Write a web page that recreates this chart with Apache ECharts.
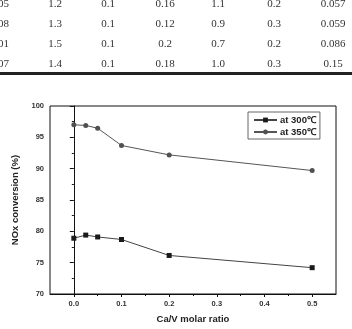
<!DOCTYPE html>
<html><head><meta charset="utf-8">
<script src="https://cdn.jsdelivr.net/npm/echarts@6/dist/echarts.min.js"></script>
<style>html,body{margin:0;padding:0;background:#fff}#c{width:352px;height:329px}</style>
</head><body><div id="c"></div>
<script>
// Table fragment (top of the picture)
const tableCol0 = ['05', '08', '01', '07'];
const tableCol1 = ['1.2', '1.3', '1.5', '1.4'];
const tableCol2 = ['0.1', '0.1', '0.1', '0.1'];
const tableCol3 = ['0.16', '0.12', '0.2', '0.18'];
const tableCol4 = ['1.1', '0.9', '0.7', '1.0'];
const tableCol5 = ['0.2', '0.3', '0.2', '0.3'];
const tableCol6 = ['0.057', '0.059', '0.086', '0.15'];

// Chart data
const caV = [0, 0.025, 0.05, 0.1, 0.2, 0.5];
const at300 = [78.9, 79.4, 79.1, 78.7, 76.15, 74.2];
const at350 = [97.0, 96.9, 96.45, 93.7, 92.2, 89.7];
const xTicks = [0, 0.1, 0.2, 0.3, 0.4, 0.5];
const xMinor = [0.05, 0.15, 0.25, 0.35, 0.45];
const names = ['at 300℃', 'at 350℃'];

const chart = echarts.init(document.getElementById('c'));

const rowY = [4, 24, 44, 64];
const colX = [9, 55, 108, 165, 218, 274, 333];
const cols = [tableCol0, tableCol1, tableCol2, tableCol3, tableCol4, tableCol5, tableCol6];
const graphics = [];
cols.forEach((col, ci) => {
  col.forEach((t, ri) => {
    graphics.push({
      type: 'text', x: colX[ci], y: rowY[ri],
      style: { text: t, fill: '#333', font: '11px "Liberation Serif", serif',
               textAlign: ci === 0 ? 'right' : 'center', textVerticalAlign: 'middle' }
    });
  });
});
graphics.push({ type: 'rect', shape: { x: 0, y: 72, width: 352, height: 3 }, style: { fill: '#222' } });

const axisLabelStyle = { fontFamily: 'Liberation Sans, Arial, sans-serif', fontWeight: 'bold', fontSize: 7.5, color: '#333' };

chart.setOption({
  animation: false,
  graphic: graphics,
  grid: { left: 50, top: 106, right: 16, bottom: 29, show: true, borderColor: '#111', borderWidth: 1, backgroundColor: 'transparent' },
  legend: {
    left: 248, top: 112, orient: 'vertical', itemWidth: 23, itemHeight: 6, itemGap: 2,
    padding: [3, 4, 2, 5], borderColor: '#666', borderWidth: 1, borderRadius: 0,
    textStyle: { fontFamily: 'Liberation Sans, Arial, sans-serif', fontWeight: 'bold', fontSize: 9.5, color: '#222', padding: [0, 0, 0, -2] },
    data: names
  },
  xAxis: [{
    type: 'value', min: -0.05, max: 0.55, position: 'bottom',
    name: 'Ca/V molar ratio', nameLocation: 'middle', nameGap: 20,
    nameTextStyle: { fontFamily: 'Liberation Sans, Arial, sans-serif', fontWeight: 'bold', fontSize: 9.5, color: '#222' },
    axisLine: { show: true, onZero: false, lineStyle: { color: '#111', width: 1 } },
    axisTick: { show: true, inside: false, length: 3, customValues: xTicks, lineStyle: { color: '#111' } },
    axisLabel: Object.assign({ customValues: xTicks, margin: 6, formatter: v => v.toFixed(1) }, axisLabelStyle),
    splitLine: { show: false }
  }, {
    type: 'value', min: -0.05, max: 0.55, position: 'bottom',
    axisLine: { show: false, onZero: false },
    axisTick: { show: true, inside: false, length: 2, customValues: xMinor, lineStyle: { color: '#111' } },
    axisLabel: { show: false, customValues: xMinor },
    splitLine: { show: false }
  }],
  yAxis: {
    type: 'value', min: 70, max: 100, interval: 5,
    name: 'NOx conversion (%)', nameLocation: 'middle', nameGap: 25, nameRotate: 90,
    nameTextStyle: { fontFamily: 'Liberation Sans, Arial, sans-serif', fontWeight: 'bold', fontSize: 9.5, color: '#222' },
    axisLine: { show: true, lineStyle: { color: '#111', width: 1 } },
    axisTick: { show: true, inside: false, length: 4, lineStyle: { color: '#111' } },
    minorTick: { show: true, splitNumber: 2, length: 2, lineStyle: { color: '#111' } },
    axisLabel: Object.assign({ margin: 6 }, axisLabelStyle),
    splitLine: { show: false }
  },
  series: [{
    name: names[0], type: 'line', data: caV.map((x, i) => [x, at300[i]]),
    symbol: 'rect', symbolSize: 5, lineStyle: { color: '#444', width: 1 },
    itemStyle: { color: '#1a1a1a' }
  }, {
    name: names[1], type: 'line', data: caV.map((x, i) => [x, at350[i]]),
    symbol: 'circle', symbolSize: 5, lineStyle: { color: '#555', width: 1 },
    itemStyle: { color: '#505050' }
  }]
});
</script></body></html>
